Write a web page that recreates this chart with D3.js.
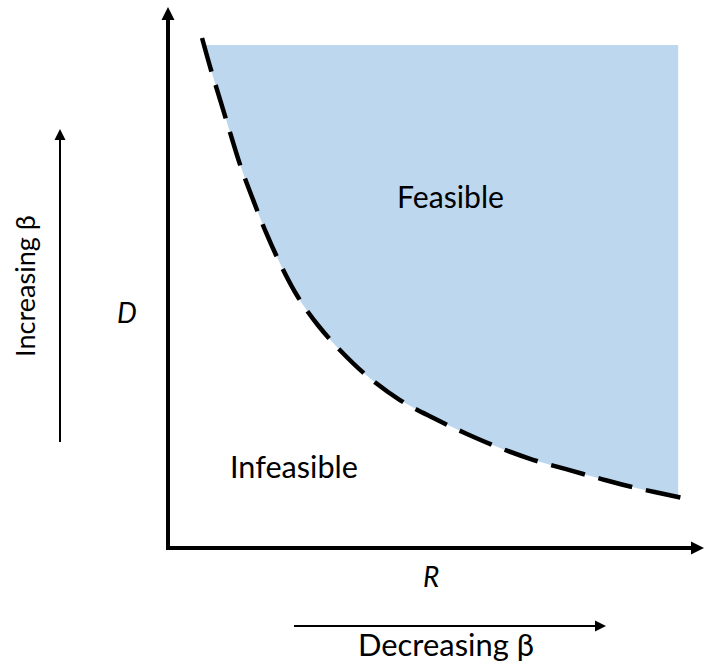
<!DOCTYPE html>
<html><head><meta charset="utf-8">
<script src="https://cdn.jsdelivr.net/npm/d3@7"></script>
<style>body{margin:0;background:#fff} svg{display:block}</style>
</head><body>
<script>
// Boundary curve (R, D) in arbitrary units
const curveR = [0.64, 0.81, 0.98, 1.17, 1.37, 1.60, 1.84, 2.12, 2.44, 2.82, 3.23, 3.74, 4.36, 4.98, 5.62, 6.24, 6.86, 7.50, 8.12, 8.74, 9.68];
const curveD = [9.48, 8.88, 8.33, 7.71, 7.08, 6.47, 5.87, 5.26, 4.67, 4.14, 3.68, 3.20, 2.75, 2.42, 2.12, 1.86, 1.64, 1.46, 1.29, 1.13, 0.93];
// Feasible region limits
const fillTop = 9.35;
const fillRight = 9.59;
// Texts
const regionLabels = ["Feasible", "Infeasible"];
const axisLabels = ["R", "D"];
const arrowLabels = ["Decreasing β", "Increasing β"];

const W = 704, H = 664;
const svg = d3.select("body").append("svg").attr("width", W).attr("height", H);
const x = d3.scaleLinear().domain([0, 10]).range([168, 700]);
const y = d3.scaleLinear().domain([0, 10]).range([548, 10]);
const pts = curveR.map((r, i) => [r, curveD[i]]);
const font = "Lato, 'Open Sans', sans-serif";

// clip for fill
svg.append("clipPath").attr("id", "fc").append("rect")
  .attr("x", 0).attr("y", y(fillTop))
  .attr("width", x(fillRight)).attr("height", y(0) - y(fillTop));

const area = d3.area().x(d => x(d[0])).y0(y(10)).y1(d => y(d[1])).curve(d3.curveCatmullRom);
svg.append("path").datum(pts).attr("d", area)
  .attr("fill", "#BDD7EE").attr("clip-path", "url(#fc)");

const line = d3.line().x(d => x(d[0])).y(d => y(d[1])).curve(d3.curveCatmullRom);
svg.append("path").datum(pts).attr("d", line)
  .attr("fill", "none").attr("stroke", "#000").attr("stroke-width", 4.5)
  .attr("stroke-dasharray", "35,14");

// Axes
const x0 = x(0), y0 = y(0);
svg.append("line").attr("x1", x0).attr("y1", y0 + 2).attr("x2", x0).attr("y2", 19)
  .attr("stroke", "#000").attr("stroke-width", 4);
svg.append("path").attr("d", `M${x0},7 L${x0 + 6.5},20 L${x0 - 6.5},20 Z`).attr("fill", "#000");
svg.append("line").attr("x1", x0 - 2).attr("y1", y0).attr("x2", 692).attr("y2", y0)
  .attr("stroke", "#000").attr("stroke-width", 4);
svg.append("path").attr("d", `M704,${y0} L691,${y0 - 6.5} L691,${y0 + 6.5} Z`).attr("fill", "#000");

// Side arrows
svg.append("line").attr("x1", 60).attr("y1", 442).attr("x2", 60).attr("y2", 138)
  .attr("stroke", "#000").attr("stroke-width", 2);
svg.append("path").attr("d", "M60,129 L65.5,140 L54.5,140 Z").attr("fill", "#000");
svg.append("line").attr("x1", 294).attr("y1", 626).attr("x2", 597).attr("y2", 626)
  .attr("stroke", "#000").attr("stroke-width", 2);
svg.append("path").attr("d", "M606,626 L595,620.5 L595,631.5 Z").attr("fill", "#000");

function fit(sel, target) {
  const w = sel.node().getComputedTextLength();
  const fs = parseFloat(sel.attr("font-size"));
  sel.attr("font-size", fs * target / w);
}
function txt(t, px, py, fs, target, italic) {
  const s = svg.append("text").attr("x", px).attr("y", py).text(t)
    .attr("font-family", font).attr("font-size", fs).attr("fill", "#000");
  if (italic) s.attr("font-style", "italic");
  if (target) fit(s, target);
  return s;
}
txt(regionLabels[0], 397, 208, 30, 107);
txt(regionLabels[1], 230, 478, 30, 128);
txt(axisLabels[0], 423, 587, 28, 0, true);
txt(axisLabels[1], 117, 323, 28, 0, true);
txt(arrowLabels[0], 358, 656, 30, 176);
const inc = svg.append("text").attr("transform", "translate(35,357) rotate(-90)")
  .text(arrowLabels[1]).attr("font-family", font).attr("font-size", 26).attr("fill", "#000");
fit(inc, 142);
</script>
</body></html>
